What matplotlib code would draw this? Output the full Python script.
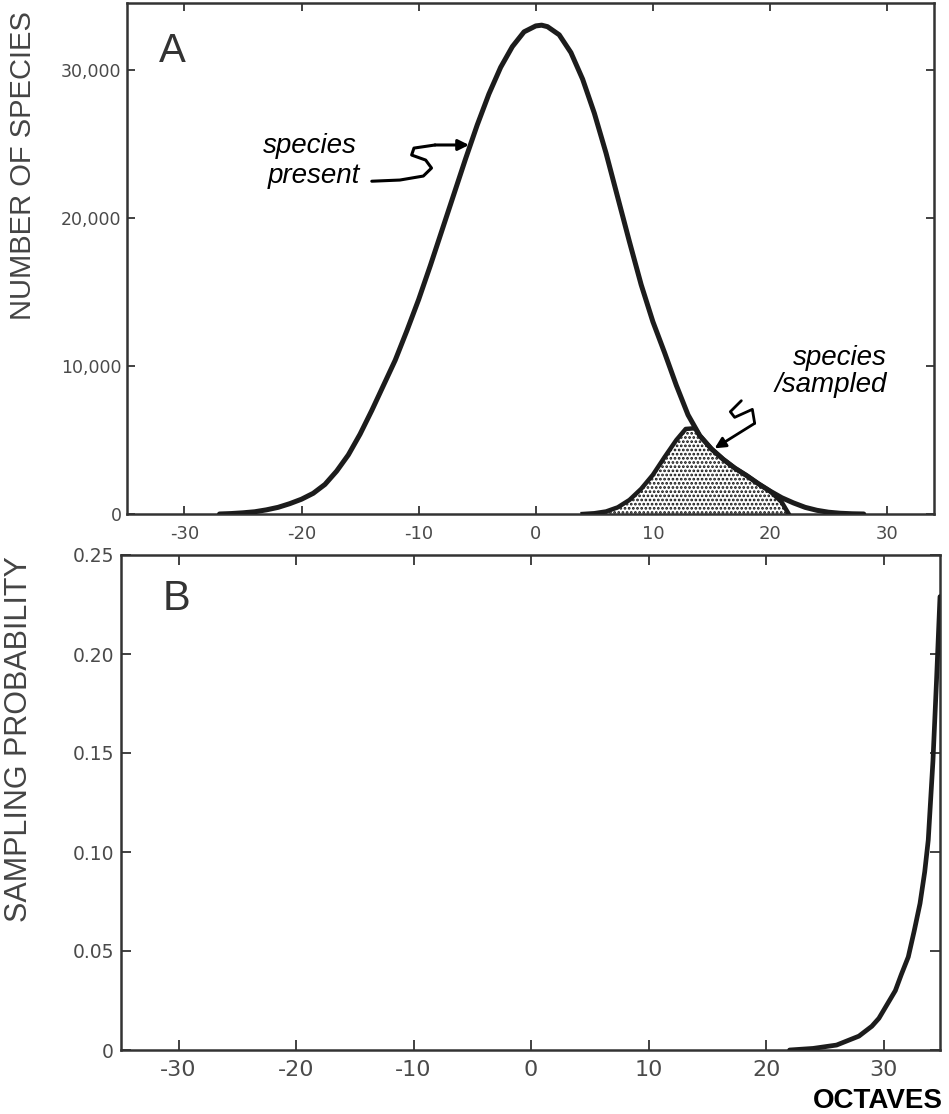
import matplotlib
matplotlib.use('Agg')
import matplotlib.pyplot as plt

# ---------------- data ----------------
present_x = [-27, -26, -25, -24, -23, -22, -21, -20, -19, -18, -17, -16, -15, -14,
             -13, -12, -11, -10, -9, -8, -7, -6, -5, -4, -3, -2, -1, 0, 0.5, 1,
             2, 3, 4, 5, 6, 7, 8, 9, 10, 11, 12, 13, 14, 15, 16, 17, 18, 19,
             20, 21, 22, 23, 24, 25, 26, 27, 28]
present_y = [0, 30, 80, 150, 280, 450, 700, 1000, 1400, 2000, 2900, 4000, 5400, 7000,
             8700, 10400, 12400, 14500, 16800, 19200, 21600, 24000, 26300, 28400, 30200,
             31600, 32600, 33000, 33050, 32950,
             32400, 31200, 29400, 27100, 24400, 21400, 18400, 15500, 13000, 10900, 8700,
             6700, 5300, 4400, 3700, 3100, 2600, 2050,
             1550, 1100, 750, 450, 250, 120, 50, 15, 0]

sampled_x = [4, 5, 6, 7, 8, 9, 10, 11, 12, 12.8, 13.6, 14, 15, 16, 17, 18, 19, 20, 21, 21.6]
sampled_y = [0, 50, 170, 450, 950, 1700, 2650, 3850, 5000, 5750, 5800, 5300, 4400,
             3700, 3100, 2600, 2050, 1550, 800, 0]

prob_x = [22.0, 24.0, 26.0, 27.9, 29.0, 29.6, 30.0, 30.5, 31.0, 31.5, 32.1, 32.6,
          33.1, 33.5, 33.8, 34.2, 34.5, 34.8]
prob_y = [0.0, 0.0008, 0.0025, 0.007, 0.012, 0.016, 0.020, 0.025, 0.030, 0.038,
          0.047, 0.060, 0.074, 0.090, 0.106, 0.146, 0.186, 0.229]

top_xticks = [-30, -20, -10, 0, 10, 20, 30]
top_yticks = [0, 10000, 20000, 30000]
top_ytick_labels = ['0', '10,000', '20,000', '30,000']
bottom_xticks = [-30, -20, -10, 0, 10, 20, 30]
bottom_yticks = [0, 0.05, 0.10, 0.15, 0.20, 0.25]
bottom_ytick_labels = ['0', '0.05', '0.10', '0.15', '0.20', '0.25']

# annotation squiggles (data coordinates)
present_arrow_x = [-14.0, -11.6, -9.6, -8.9, -9.4, -10.6, -10.4, -8.6]
present_arrow_y = [22500, 22580, 22850, 23390, 23930, 24270, 24740, 24950]
present_arrow_tip = (-5.7, 24950)
sampled_arrow_x = [17.55, 16.61, 16.98, 18.49, 18.69]
sampled_arrow_y = [7660, 6916, 6535, 7075, 6130]
sampled_arrow_tip = (15.27, 4440)

# ---------------- figure ----------------
plt.rcParams['hatch.linewidth'] = 1.3
W, H = 949, 1114
fig = plt.figure(figsize=(W / 100, H / 100), dpi=100)

axA = fig.add_axes([127 / W, 1 - 514 / H, (934 - 127) / W, (514 - 3) / H])
axB = fig.add_axes([121 / W, 1 - 1050 / H, (940 - 121) / W, (1050 - 555) / H])

spine_col = '#333333'
tick_col = '#4a4a4a'
line_col = '#1c1c1c'

for ax in (axA, axB):
    for s in ax.spines.values():
        s.set_linewidth(1.8)
        s.set_color(spine_col)
    ax.tick_params(direction='in', top=True, right=True, color=spine_col, width=1.3,
                   labelcolor=tick_col)

# ---- panel A ----
axA.fill_between(sampled_x, 0, sampled_y, facecolor='white', edgecolor='#111111',
                 hatch='....', linewidth=0, zorder=2)
axA.plot(sampled_x, sampled_y, color=line_col, lw=3.2, zorder=3,
         solid_joinstyle='round')
axA.plot(present_x, present_y, color=line_col, lw=3.6, zorder=4,
         solid_joinstyle='round', solid_capstyle='round')

axA.set_xlim(-34.9, 34.0)
axA.set_ylim(0, 34550)
axA.set_xticks(top_xticks)
axA.set_xticklabels([str(t) for t in top_xticks])
axA.set_yticks(top_yticks)
axA.set_yticklabels(top_ytick_labels)
axA.tick_params(axis='x', labelsize=13, length=6, pad=8)
axA.tick_params(axis='y', labelsize=12.5, length=6, pad=4)

axA.text(0.039, 0.885, 'A', transform=axA.transAxes, fontsize=29,
         family='Liberation Sans', color='#333333', va='baseline', ha='left')

ital = dict(family='Liberation Sans', style='italic', fontsize=20, color='black')
axA.text(-15.3, 24400, 'species', ha='right', va='baseline', **ital)
axA.text(-15.0, 22350, 'present', ha='right', va='baseline', **ital)
axA.text(30.0, 10070, 'species', ha='right', va='baseline', **ital)
axA.text(30.0, 8250, '/sampled', ha='right', va='baseline', **ital)

axA.plot(present_arrow_x, present_arrow_y, color='black', lw=2.2, zorder=5,
         solid_joinstyle='round', solid_capstyle='round')
axA.annotate('', xy=present_arrow_tip,
             xytext=(present_arrow_x[-1], present_arrow_y[-1]),
             arrowprops=dict(arrowstyle='-|>', color='black', lw=2.2,
                             mutation_scale=16, shrinkA=0, shrinkB=0), zorder=5)
axA.plot(sampled_arrow_x, sampled_arrow_y, color='black', lw=2.0, zorder=5,
         solid_joinstyle='round', solid_capstyle='round')
axA.annotate('', xy=sampled_arrow_tip,
             xytext=(sampled_arrow_x[-1], sampled_arrow_y[-1]),
             arrowprops=dict(arrowstyle='-|>', color='black', lw=2.0,
                             mutation_scale=16, shrinkA=0, shrinkB=0), zorder=5)

fig.text(23 / W, 1 - 166 / H, 'NUMBER OF SPECIES', rotation=90, ha='center',
         va='center', fontsize=21, family='Liberation Sans', color='#444444')

# ---- panel B ----
axB.plot(prob_x, prob_y, color=line_col, lw=3.4, zorder=4,
         solid_joinstyle='round', solid_capstyle='round')
axB.set_xlim(-34.9, 34.8)
axB.set_ylim(0, 0.25)
axB.set_xticks(bottom_xticks)
axB.set_xticklabels([str(t) for t in bottom_xticks])
axB.set_yticks(bottom_yticks)
axB.set_yticklabels(bottom_ytick_labels)
axB.tick_params(axis='x', labelsize=16, length=7.5, pad=7)
axB.tick_params(axis='y', labelsize=13.5, length=7.5, pad=5)

axB.text(0.051, 0.889, 'B', transform=axB.transAxes, fontsize=30,
         family='Liberation Sans', color='#333333', va='baseline', ha='left')

fig.text(19 / W, 1 - 739 / H, 'SAMPLING PROBABILITY', rotation=90, ha='center',
         va='center', fontsize=22, family='Liberation Sans', color='#444444')

fig.text(877.5 / W, 1 - 1108 / H, 'OCTAVES', ha='center', va='baseline',
         fontsize=20, fontweight='bold', family='Liberation Sans', color='black')

fig.savefig('out.png', dpi=100)
